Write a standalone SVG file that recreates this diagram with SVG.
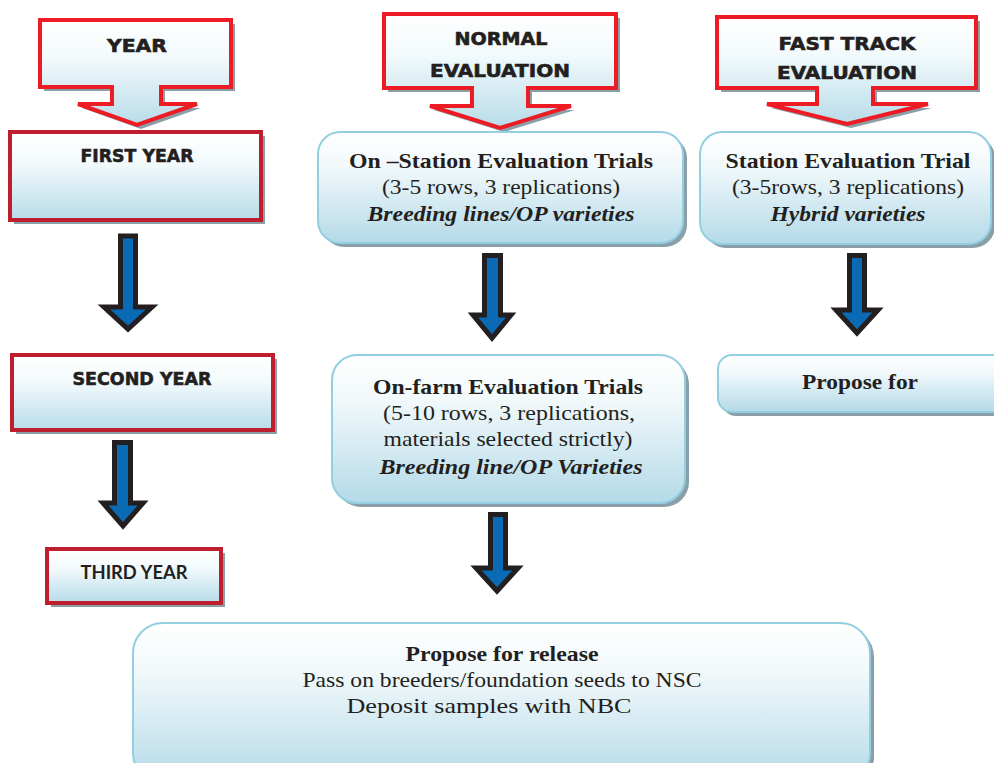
<svg xmlns="http://www.w3.org/2000/svg" width="994" height="763" viewBox="0 0 994 763">
<defs>
<linearGradient id="gHead" x1="0" y1="0" x2="0" y2="1">
<stop offset="0" stop-color="#ffffff"/><stop offset="0.35" stop-color="#f3fafc"/><stop offset="1" stop-color="#b7dce9"/>
</linearGradient>
<linearGradient id="gBox" x1="0" y1="0" x2="0" y2="1">
<stop offset="0" stop-color="#ffffff"/><stop offset="0.3" stop-color="#f2f9fb"/><stop offset="1" stop-color="#b4dae8"/>
</linearGradient>
</defs>
<style>
.call{fill:url(#gHead);stroke:#ed1c24;stroke-width:4;stroke-linejoin:miter}
.yr{fill:url(#gHead);stroke:#be1e2d;stroke-width:4}
.sh{fill:#8a9fa8}
.rb{fill:url(#gBox);stroke:#92cfe0;stroke-width:2}
.hd{font-family:"DejaVu Sans",sans-serif;font-weight:bold;font-size:18px;fill:#231f20;text-anchor:middle;stroke:#231f20;stroke-width:0.6}
.yt{font-family:"Lato","Liberation Sans",sans-serif;font-weight:bold;font-size:18px;fill:#231f20;text-anchor:middle}
.s{font-family:"Liberation Serif","Times New Roman",serif;font-size:22px;fill:#231f20;text-anchor:middle}
.b{font-weight:bold}
.bi{font-weight:bold;font-style:italic}
.arr{fill:#0b6ab4;stroke:#231f20;stroke-width:5;stroke-linejoin:miter;stroke-miterlimit:10}
</style>

<g id="year-header">
<path class="sh" transform="translate(4,4)" d="M40,20 H231 V87 H161 V104 H197 L137,125 L78,104 H112 V87 H40 Z"/>
<path class="call" d="M40,20 H231 V87 H161 V104 H197 L137,125 L78,104 H112 V87 H40 Z"/>
<text class="hd" x="137" y="52" font-size="20" textLength="60" lengthAdjust="spacingAndGlyphs">YEAR</text>
</g>

<g id="normal-header">
<path class="sh" transform="translate(4,4)" d="M384,14 H616 V88 H528 V106 H571 L500,128 L430,106 H472 V88 H384 Z"/>
<path class="call" d="M384,14 H616 V88 H528 V106 H571 L500,128 L430,106 H472 V88 H384 Z"/>
<text class="hd" x="501" y="45" textLength="93" lengthAdjust="spacingAndGlyphs">NORMAL</text>
<text class="hd" x="500" y="77" textLength="140" lengthAdjust="spacingAndGlyphs">EVALUATION</text>
</g>

<g id="fast-header">
<path class="sh" transform="translate(4,4)" d="M717,17 H976 V88 H873 V104 H928 L847,124 L767,104 H817 V88 H717 Z"/>
<path class="call" d="M717,17 H976 V88 H873 V104 H928 L847,124 L767,104 H817 V88 H717 Z"/>
<text class="hd" x="847" y="50" textLength="137" lengthAdjust="spacingAndGlyphs">FAST TRACK</text>
<text class="hd" x="847" y="79" textLength="140" lengthAdjust="spacingAndGlyphs">EVALUATION</text>
</g>

<g id="first-year">
<rect class="sh" x="14" y="136" width="251" height="88"/>
<rect class="yr" x="10" y="132" width="251" height="88"/>
<text class="hd" x="137" y="162" textLength="113" lengthAdjust="spacingAndGlyphs">FIRST YEAR</text>
</g>

<g id="second-year">
<rect class="sh" x="16" y="359" width="261" height="75"/>
<rect class="yr" x="12" y="355" width="261" height="75"/>
<text class="hd" x="142" y="385" textLength="139" lengthAdjust="spacingAndGlyphs">SECOND YEAR</text>
</g>

<g id="third-year">
<rect class="sh" x="51" y="553" width="174" height="54"/>
<rect class="yr" x="47" y="549" width="174" height="54"/>
<text class="yt" x="134" y="579" textLength="107" lengthAdjust="spacingAndGlyphs">THIRD YEAR</text>
</g>

<g id="on-station">
<rect class="sh" x="322" y="136" width="365" height="111" rx="22"/>
<rect class="rb" x="318" y="132" width="365" height="111" rx="22"/>
<text class="s b" x="501" y="168" textLength="304" lengthAdjust="spacingAndGlyphs">On –Station Evaluation Trials</text>
<text class="s" x="501" y="194" textLength="238" lengthAdjust="spacingAndGlyphs">(3-5 rows, 3 replications)</text>
<text class="s bi" x="501" y="221" textLength="267" lengthAdjust="spacingAndGlyphs">Breeding lines/OP varieties</text>
</g>

<g id="station">
<rect class="sh" x="704" y="136" width="291" height="112" rx="22"/>
<rect class="rb" x="700" y="132" width="291" height="112" rx="22"/>
<text class="s b" x="848" y="168" textLength="245" lengthAdjust="spacingAndGlyphs">Station Evaluation Trial</text>
<text class="s" x="848" y="194" textLength="232" lengthAdjust="spacingAndGlyphs">(3-5rows, 3 replications)</text>
<text class="s bi" x="848" y="221" textLength="155" lengthAdjust="spacingAndGlyphs">Hybrid varieties</text>
</g>

<g id="on-farm">
<rect class="sh" x="336" y="359" width="353" height="148" rx="25"/>
<rect class="rb" x="332" y="355" width="353" height="148" rx="25"/>
<text class="s b" x="508" y="394" textLength="270" lengthAdjust="spacingAndGlyphs">On-farm Evaluation Trials</text>
<text class="s" x="509" y="420" textLength="252" lengthAdjust="spacingAndGlyphs">(5-10 rows, 3 replications,</text>
<text class="s" x="508" y="446" textLength="249" lengthAdjust="spacingAndGlyphs">materials selected strictly)</text>
<text class="s bi" x="511" y="474" textLength="263" lengthAdjust="spacingAndGlyphs">Breeding line/OP Varieties</text>
</g>

<g id="propose-for">
<rect class="sh" x="722" y="359" width="300" height="57" rx="14"/>
<rect class="rb" x="718" y="355" width="300" height="57" rx="14"/>
<text class="s b" x="860" y="389" textLength="116" lengthAdjust="spacingAndGlyphs">Propose for</text>
</g>

<g id="propose-release">
<rect class="sh" x="137" y="627" width="737" height="160" rx="30"/>
<rect class="rb" x="133" y="623" width="737" height="160" rx="30"/>
<text class="s b" x="502" y="661" textLength="193" lengthAdjust="spacingAndGlyphs">Propose for release</text>
<text class="s" x="502" y="687" textLength="399" lengthAdjust="spacingAndGlyphs">Pass on breeders/foundation seeds to NSC</text>
<text class="s" x="489" y="713" textLength="285" lengthAdjust="spacingAndGlyphs">Deposit samples with NBC</text>
</g>

<g id="connectors">
<polygon class="arr" points="120.5,236 135.5,236 135.5,307 152,307 128,329 104,307 120.5,307"/>
<polygon class="arr" points="114.5,442.5 130.5,442.5 130.5,503 143,503 123,526 103,503 114.5,503"/>
<polygon class="arr" points="484.5,255.5 500.5,255.5 500.5,315 511,315 492,338 473,315 484.5,315"/>
<polygon class="arr" points="490.5,514.5 505.5,514.5 505.5,568 518,568 497,591 476,568 490.5,568"/>
<polygon class="arr" points="849.5,255.5 864.5,255.5 864.5,310 878,310 857,333 836,310 849.5,310"/>
</g>
</svg>
